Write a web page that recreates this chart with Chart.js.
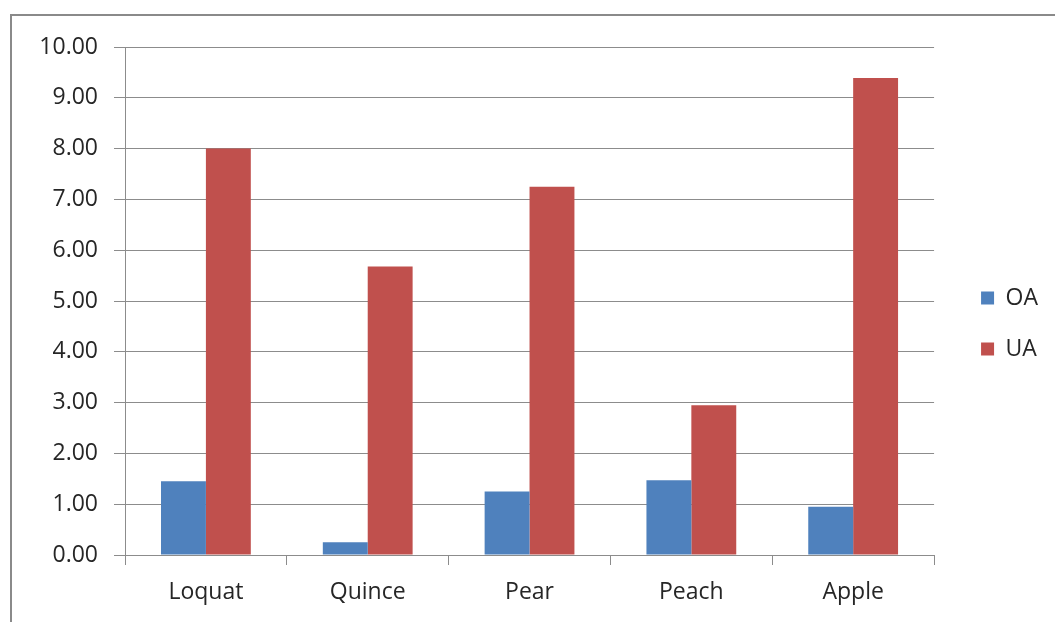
<!DOCTYPE html>
<html>
<head>
	<title>OA / UA</title>
	<script src="https://cdn.jsdelivr.net/npm/chart.js@4"></script>
	<style>
		body { margin: 0; background: #fff; overflow: hidden; }
		#frame {
			position: absolute; left: 10px; top: 14px;
			width: 1100px; height: 700px;
			border: 2px solid #8a8a8a;
		}
		#holder { position: absolute; left: 0; top: 0; width: 1055px; height: 622px; }
	</style>
</head>
<body>
<div id="frame"></div>
<div id="holder">
	<canvas id="barcanvas"></canvas>
</div>

<script>
	var categories = ["Loquat", "Quince", "Pear", "Peach", "Apple"];
	var oaValues = [1.45, 0.25, 1.25, 1.47, 0.95];
	var uaValues = [8.00, 5.68, 7.25, 2.95, 9.39];
	var yTicks = [0, 1, 2, 3, 4, 5, 6, 7, 8, 9, 10];

	var blue = "#4F81BD";
	var red = "#C0504D";
	var gridGray = "#8c8c8c";
	var font = "'Open Sans', 'Liberation Sans', sans-serif";

	// move the legend to where Excel puts it
	var legendNudge = {
		id: 'legendNudge',
		afterLayout: function(chart) {
			var lg = chart.legend;
			lg.top -= 11;
			lg.bottom -= 11;
			lg.left += 19;
			lg.right += 19;
		}
	};

	var config = {
		type: 'bar',
		data: {
			labels: categories,
			datasets: [{
				label: "OA",
				data: oaValues,
				backgroundColor: blue,
				borderWidth: 0
			}, {
				label: "UA",
				data: uaValues,
				backgroundColor: red,
				borderWidth: 0
			}]
		},
		options: {
			responsive: true,
			maintainAspectRatio: false,
			animation: false,
			layout: {
				padding: { top: 47, right: 26, bottom: 0, left: 0 }
			},
			datasets: {
				bar: { categoryPercentage: 0.555, barPercentage: 1.0 }
			},
			scales: {
				x: {
					offset: true,
					grid: {
						offset: true,
						drawOnChartArea: false,
						drawTicks: true,
						tickLength: 10,
						color: gridGray
					},
					border: { display: true, color: gridGray },
					ticks: {
						color: "#262626",
						padding: 14,
						font: { family: font, size: 23 }
					},
					afterFit: function(scale) { scale.height = 67; }
				},
				y: {
					min: 0,
					max: 10,
					afterBuildTicks: function(scale) {
						scale.ticks = yTicks.map(function(v) { return { value: v }; });
					},
					grid: {
						color: gridGray,
						tickLength: 11,
						drawTicks: true
					},
					border: { display: true, color: gridGray },
					ticks: {
						color: "#262626",
						padding: 16,
						font: { family: font, size: 23 },
						callback: function(v) { return Number(v).toFixed(2); }
					},
					afterFit: function(scale) { scale.width = 125; }
				}
			},
			plugins: {
				legend: {
					position: 'right',
					labels: {
						boxWidth: 13,
						boxHeight: 13,
						padding: 28,
						color: "#262626",
						font: { family: font, size: 23 }
					}
				},
				tooltip: { enabled: false }
			}
		},
		plugins: [legendNudge]
	};

	var ctx = document.getElementById("barcanvas").getContext("2d");
	window.myBar = new Chart(ctx, config);
</script>
</body>
</html>
